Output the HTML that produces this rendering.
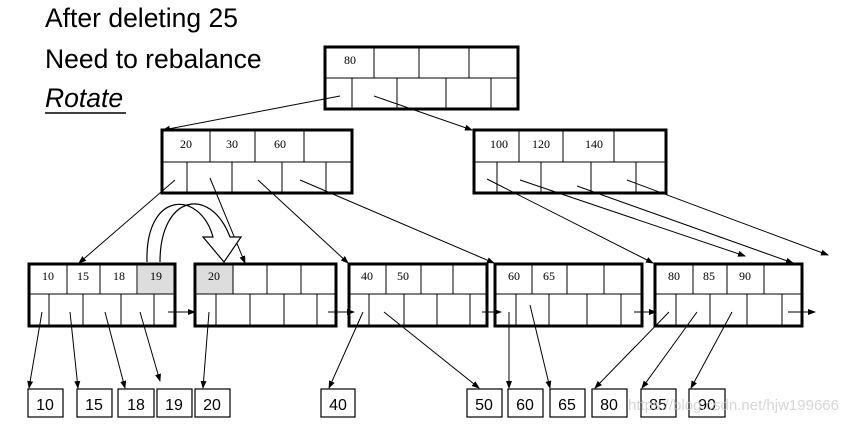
<!DOCTYPE html>
<html><head><meta charset="utf-8"><style>
html,body{margin:0;padding:0;background:#fff;}
svg{display:block;}
.t{font-family:"Liberation Sans",Arial,sans-serif;font-size:26.5px;fill:#000;}
.n{font-family:"Liberation Serif",serif;font-size:12px;fill:#000;text-anchor:middle;}
.b{font-family:"Liberation Sans",Arial,sans-serif;font-size:16px;fill:#000;text-anchor:middle;}
</style></head><body>
<svg width="861" height="426" viewBox="0 0 861 426" xmlns="http://www.w3.org/2000/svg">
<defs><marker id="a" markerWidth="8" markerHeight="8" refX="7" refY="4" orient="auto" markerUnits="userSpaceOnUse"><path d="M0,1 L8,4 L0,7 z" fill="#000"/></marker></defs>
<text class="t" x="45" y="27">After deleting 25</text>
<text class="t" x="45" y="68">Need to rebalance</text>
<text class="t" x="45" y="107" font-style="italic">Rotate</text>
<line x1="45" y1="113" x2="126" y2="113" stroke="#000" stroke-width="1.5"/>

<g stroke="#000" fill="none">
<rect x="325" y="47" width="193" height="62" stroke-width="3"/>
<line x1="325" y1="78" x2="518" y2="78"/>
<path d="M374,47V78M419,47V78M469,47V78M352,78V109M397,78V109M446,78V109M491,78V109"/>
<rect x="162" y="130" width="190" height="63" stroke-width="3"/>
<line x1="162" y1="162" x2="352" y2="162"/>
<path d="M210,130V162M255,130V162M304,130V162M187,162V193M232,162V193M282,162V193M326,162V193"/>
<rect x="474" y="130" width="192" height="63" stroke-width="3"/>
<line x1="474" y1="162" x2="666" y2="162"/>
<path d="M519,130V162M563,130V162M614,130V162M497,162V193M541,162V193M591,162V193M636,162V193"/>
<rect x="138" y="264" width="37" height="30" fill="#ddd" stroke="none"/>
<rect x="197" y="264" width="36" height="30" fill="#ddd" stroke="none"/>
<rect x="29" y="264" width="146" height="62" stroke-width="3"/>
<line x1="29" y1="294" x2="175" y2="294"/>
<path d="M67,264V294M100,264V294M137,264V294M49,294V326M83,294V326M121,294V326M154,294V326"/>
<rect x="195" y="264" width="141" height="62" stroke-width="3"/>
<line x1="195" y1="294" x2="336" y2="294"/>
<path d="M233,264V294M267,264V294M301,264V294M216,294V326M250,294V326M284,294V326M317,294V326"/>
<rect x="349" y="264" width="138" height="62" stroke-width="3"/>
<line x1="349" y1="294" x2="487" y2="294"/>
<path d="M386,264V294M421,264V294M453,264V294M369,294V326M404,294V326M437,294V326M470,294V326"/>
<rect x="495" y="264" width="147" height="62" stroke-width="3"/>
<line x1="495" y1="294" x2="642" y2="294"/>
<path d="M532,264V294M567,264V294M604,264V294M516,294V326M549,294V326M587,294V326M621,294V326"/>
<rect x="655" y="264" width="147" height="62" stroke-width="3"/>
<line x1="655" y1="294" x2="802" y2="294"/>
<path d="M693,264V294M727,264V294M764,264V294M676,294V326M710,294V326M747,294V326M782,294V326"/>
<g stroke-width="1.2">
<rect x="28" y="389" width="35" height="28"/><rect x="77" y="389" width="35" height="28"/>
<rect x="118" y="389" width="36" height="28"/><rect x="157" y="389" width="35" height="28"/>
<rect x="195" y="389" width="35" height="28"/><rect x="321" y="389" width="34" height="28"/>
<rect x="467" y="389" width="35" height="28"/><rect x="508" y="389" width="35" height="28"/>
<rect x="550" y="389" width="35" height="28"/><rect x="592" y="389" width="35" height="28"/>
<rect x="641" y="389" width="35" height="28"/><rect x="689" y="389" width="36" height="28"/>
</g>
<g stroke-width="1" marker-end="url(#a)">
<line x1="340" y1="96" x2="163" y2="130"/>
<line x1="374" y1="96" x2="472" y2="130"/>
<line x1="175" y1="180" x2="79" y2="263"/>
<line x1="210" y1="178" x2="245" y2="263"/>
<line x1="258" y1="180" x2="348" y2="263"/>
<line x1="300" y1="180" x2="494" y2="263"/>
<line x1="487" y1="179" x2="653" y2="263"/>
<line x1="520" y1="180" x2="745" y2="256"/>
<line x1="577" y1="186" x2="793" y2="263"/>
<line x1="627" y1="180" x2="828" y2="255"/>
<line x1="42" y1="312" x2="29" y2="388"/>
<line x1="70" y1="312" x2="78" y2="388"/>
<line x1="105" y1="312" x2="125" y2="388"/>
<line x1="140" y1="312" x2="160" y2="381"/>
<line x1="168" y1="312" x2="195" y2="312"/>
<line x1="209" y1="312" x2="203" y2="388"/>
<line x1="328" y1="312" x2="354" y2="312"/>
<line x1="363" y1="312" x2="329" y2="388"/>
<line x1="384" y1="312" x2="479" y2="388"/>
<line x1="482" y1="312" x2="501" y2="312"/>
<line x1="509" y1="312" x2="509" y2="388"/>
<line x1="530" y1="305" x2="550" y2="388"/>
<line x1="634" y1="312" x2="656" y2="312"/>
<line x1="669" y1="312" x2="595" y2="388"/>
<line x1="697" y1="312" x2="642" y2="388"/>
<line x1="732" y1="312" x2="691" y2="388"/>
<line x1="788" y1="312" x2="815" y2="312"/>
</g>
<path d="M147,262 C145,190 200,190 213,237 L203,237 L224,262 L241,237 L230,237 C210,185 160,195 160,262" fill="#fff" stroke-width="1.2"/>
</g>

<g class="n">
<text x="350" y="64">80</text>
<text x="186" y="148">20</text><text x="232" y="148">30</text><text x="280" y="148">60</text>
<text x="499" y="148">100</text><text x="541" y="148">120</text><text x="594" y="148">140</text>
<text x="48" y="280">10</text><text x="83" y="280">15</text><text x="119" y="280">18</text><text x="156" y="280">19</text>
<text x="214" y="280">20</text>
<text x="367" y="280">40</text><text x="403" y="280">50</text>
<text x="514" y="280">60</text><text x="549" y="280">65</text>
<text x="674" y="280">80</text><text x="709" y="280">85</text><text x="745" y="280">90</text>
</g>
<g class="b">
<text x="45" y="410">10</text><text x="94" y="410">15</text><text x="136" y="410">18</text>
<text x="174" y="410">19</text><text x="212" y="410">20</text><text x="338" y="410">40</text>
<text x="484" y="410">50</text><text x="525" y="410">60</text><text x="567" y="410">65</text>
<text x="609" y="410">80</text><text x="658" y="410">85</text><text x="707" y="410">90</text>
</g>
<text x="628" y="410" font-family="Liberation Sans,Arial,sans-serif" font-size="15" fill="#ccc" opacity="0.8">https://blog.csdn.net/hjw199666</text>
</svg>
</body></html>
